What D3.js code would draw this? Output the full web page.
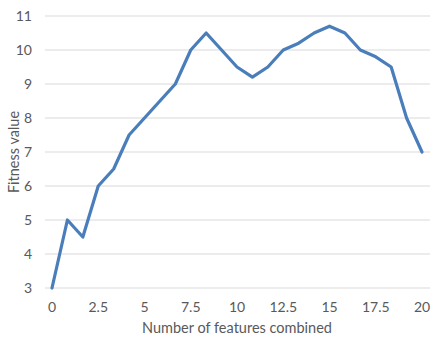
<!DOCTYPE html>
<html><head><meta charset="utf-8">
<script src="https://cdn.jsdelivr.net/npm/d3@7"></script>
<style>body{margin:0;background:#fff}</style>
</head><body>
<svg id="c" width="431" height="341"></svg>
<script>
const xValues = [0,0.833,1.667,2.5,3.333,4.167,5,5.833,6.667,7.5,8.333,9.167,10,10.833,11.667,12.5,13.333,14.167,15,15.833,16.667,17.5,18.333,19.167,20];
const yValues = [3,5,4.5,6,6.5,7.5,8,8.5,9,10,10.5,10,9.5,9.2,9.5,10,10.2,10.5,10.7,10.5,10,9.8,9.5,8,7];
const xTicks = [0,2.5,5,7.5,10,12.5,15,17.5,20];
const yTicks = [3,4,5,6,7,8,9,10,11];
const xTitle = "Number of features combined";
const yTitle = "Fitness value";

const svg = d3.select("#c");
const font = "Lato, 'Open Sans', sans-serif";
const x = d3.scaleLinear().domain([0,20]).range([52,422]);
const y = d3.scaleLinear().domain([3,11]).range([288,16]);

svg.append("g").selectAll("line").data(yTicks).join("line")
  .attr("x1",45).attr("x2",430)
  .attr("y1",d=>y(d)).attr("y2",d=>y(d))
  .attr("stroke","#d9d9d9").attr("stroke-width",1);

svg.append("g").selectAll("text").data(yTicks).join("text")
  .attr("x",32).attr("y",d=>y(d)).attr("dy","0.35em")
  .attr("text-anchor","end").attr("font-family",font).attr("font-size",14)
  .attr("fill","#595959").text(d=>d);

svg.append("g").selectAll("text").data(xTicks).join("text")
  .attr("x",d=>x(d)).attr("y",307).attr("dy","0.35em")
  .attr("text-anchor","middle").attr("font-family",font).attr("font-size",14)
  .attr("fill","#595959").text(d=>d);

svg.append("text").attr("x",237).attr("y",328).attr("dy","0.35em")
  .attr("text-anchor","middle").attr("font-family",font).attr("font-size",14.5)
  .attr("fill","#595959").text(xTitle);

svg.append("text").attr("transform","translate(14,152) rotate(-90)").attr("dy","0.35em")
  .attr("text-anchor","middle").attr("font-family",font).attr("font-size",14.5)
  .attr("fill","#595959").text(yTitle);

const line = d3.line().x((d,i)=>x(xValues[i])).y(d=>y(d));
svg.append("path").datum(yValues).attr("d",line)
  .attr("fill","none").attr("stroke","#4a7ebb").attr("stroke-width",3.2)
  .attr("stroke-linejoin","round").attr("stroke-linecap","round");
</script>
</body></html>
